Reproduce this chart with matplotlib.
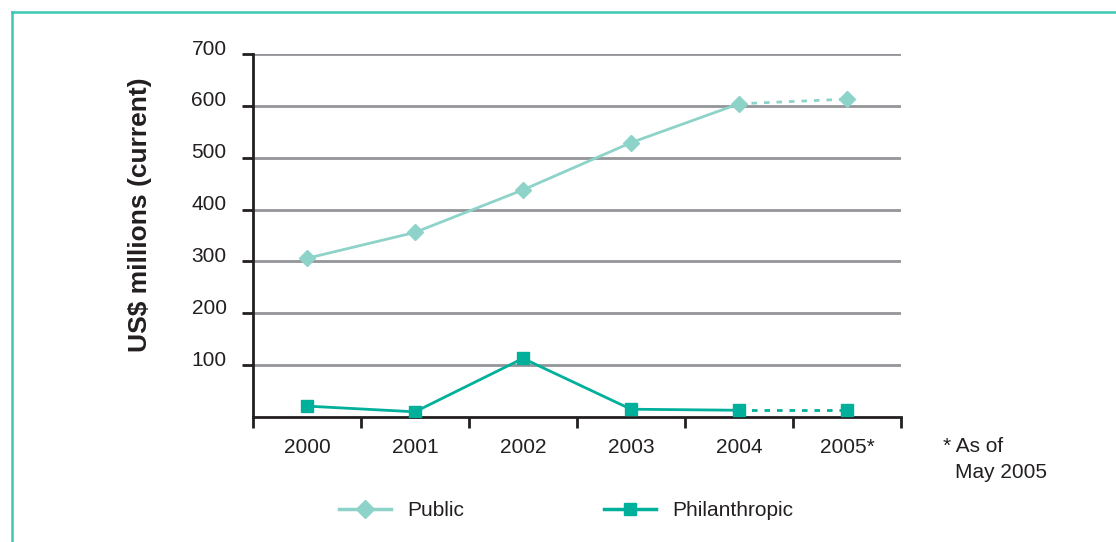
import matplotlib.pyplot as plt
from matplotlib.lines import Line2D
from matplotlib.transforms import ScaledTranslation

years = ["2000", "2001", "2002", "2003", "2004", "2005*"]
public = [306, 356, 438, 529, 604, 613]
philanthropic = [21, 10, 113, 15, 13, 13]
yticks = [100, 200, 300, 400, 500, 600, 700]

c_public = "#8dd3c9"
c_phil = "#00b09b"
c_text = "#231f20"

plt.rcParams["font.family"] = ["Liberation Sans", "DejaVu Sans"]

W, H = 1116, 542
fig = plt.figure(figsize=(W / 100, H / 100), dpi=100)
ax = fig.add_axes([253 / W, 1 - 417 / H, (901 - 253) / W, (417 - 54) / H])

x = list(range(len(years)))

# grid lines
for v in yticks:
    ax.axhline(v, color="#939598", lw=2, zorder=1)

# solid part up to 2004, dotted to 2005
ax.plot(x[:5], public[:5], color=c_public, lw=2, zorder=3)
ax.plot(x[4:], public[4:], color=c_public, lw=2, ls=(0, (2, 2.5)), zorder=3)
ax.plot(x[:5], philanthropic[:5], color=c_phil, lw=2, zorder=3)
ax.plot(x[4:], philanthropic[4:], color=c_phil, lw=2, ls=(0, (2, 2.5)), zorder=3)

# small gray dot on top of each diamond
ax.plot(x, [v + 7 for v in public], ls="none", marker="o", ms=3.5,
        color="#808285", zorder=3.5)
ax.plot(x, public, ls="none", marker="D", ms=8, color=c_public, zorder=4)
ax.plot(x, philanthropic, ls="none", marker="s", ms=8, color=c_phil, zorder=4)

ax.set_xlim(-0.5, 5.5)
ax.set_ylim(0, 700)
ax.set_yticks(yticks)
ax.set_yticklabels([str(v) for v in yticks], fontsize=15, color=c_text)
ax.set_xticks([i + 0.5 for i in range(-1, 6)])
ax.set_xticklabels([])
ax.set_xticks(x, minor=True)
ax.set_xticklabels(years, minor=True, fontsize=15, color=c_text)
ax.tick_params(axis="x", which="major", direction="out", length=8, width=2,
               color=c_text)
ax.tick_params(axis="x", which="minor", length=0, pad=15)
ax.tick_params(axis="y", direction="out", length=8, width=2, color=c_text,
               pad=11)

# y labels sit a little above their grid lines
shift = ScaledTranslation(0, 5 / 72, fig.dpi_scale_trans)
for lab in ax.get_yticklabels():
    lab.set_transform(lab.get_transform() + shift)

for s in ["top", "right"]:
    ax.spines[s].set_visible(False)
for s in ["left", "bottom"]:
    ax.spines[s].set_color(c_text)
    ax.spines[s].set_linewidth(2)
ax.spines["bottom"].set_zorder(2)

fig.text(140 / W, 1 - 215 / H, "US$ millions (current)", rotation=90,
         ha="center", va="center", fontsize=19, fontweight="bold", color=c_text)

fig.text(943 / W, 1 - 447 / H, "* As of", ha="left", va="center",
         fontsize=15, color=c_text)
fig.text(955 / W, 1 - 473 / H, "May 2005", ha="left", va="center",
         fontsize=15, color=c_text)

# legend
handles = [
    Line2D([], [], color=c_public, lw=2.5, marker="D", ms=9),
    Line2D([], [], color=c_phil, lw=2.5, marker="s", ms=9),
]
fig.legend(handles, ["Public", "Philanthropic"], loc="center",
           bbox_to_anchor=(566 / W, 1 - 511 / H), ncol=2, frameon=False,
           fontsize=15, handlelength=2.5, handletextpad=0.8, columnspacing=6.7,
           labelcolor=c_text)

# teal frame
fc = "#3cc8b4"
fig.add_artist(Line2D([12 / W, 1], [1 - 12 / H, 1 - 12 / H], color=fc, lw=1.8,
                      transform=fig.transFigure))
fig.add_artist(Line2D([12 / W, 12 / W], [0, 1 - 12 / H], color=fc, lw=1.8,
                      transform=fig.transFigure))

fig.savefig("out.png", dpi=100)
